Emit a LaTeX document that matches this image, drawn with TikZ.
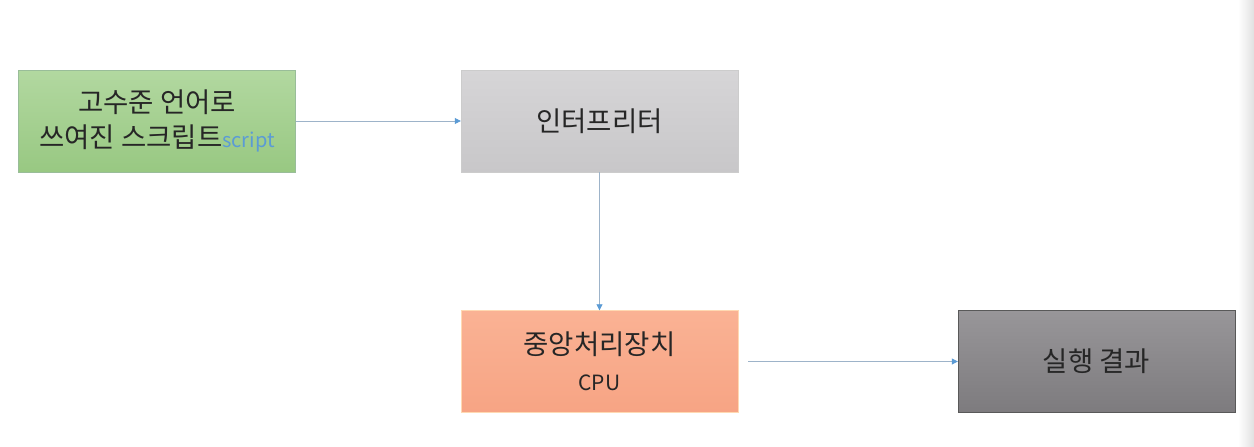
\documentclass[tikz,border=0pt]{standalone}
\usepackage{fontspec}
\setmainfont{Noto Sans CJK KR}
\usetikzlibrary{arrows.meta}
\definecolor{arrowc}{HTML}{5B9BD5}
\definecolor{linec}{HTML}{9DB3C9}
\definecolor{scriptc}{HTML}{5B9BD5}
\tikzset{
  box/.style={rectangle, minimum width=277pt, minimum height=102pt, inner sep=0pt, align=center, font=\fontsize{27.5}{34.5}\selectfont, text=black!85},
  conn/.style={draw=linec, line width=0.8pt, -{Triangle[length=6pt,width=6pt,fill=arrowc,color=arrowc]}},
}
\begin{document}
\begin{tikzpicture}[x=1pt,y=-1pt]
\useasboundingbox (0,0) rectangle (1254,447);
\fill[white] (0,0) rectangle (1254,447);
\shade[left color=white, right color=black!12] (1238,0) rectangle (1254,447);
\node[box, draw=green!35!black!40, top color={rgb,255:red,178;green,216;blue,160}, bottom color={rgb,255:red,152;green,200;blue,130}] (src) at (157,121) {고수준 언어로\\쓰여진 스크립트{\fontsize{20}{20}\selectfont\color{scriptc}script}};
\node[box, draw=black!20, top color={rgb,255:red,214;green,213;blue,215}, bottom color={rgb,255:red,200;green,199;blue,201}] (interp) at (599.5,121) {인터프리터};
\node[box, draw=orange!30, top color={rgb,255:red,250;green,178;blue,148}, bottom color={rgb,255:red,247;green,164;blue,132}] (cpu) at (599.5,361.5) {중앙처리장치\\[1pt]{\fontsize{21}{30}\selectfont CPU}};
\node[box, draw=black!65, top color={rgb,255:red,152;green,150;blue,153}, bottom color={rgb,255:red,125;green,123;blue,126}] (res) at (1096.5,361.5) {실행 결과};
\coordinate (cpuout) at (748,361.5);
\draw[conn] (src.east) -- (interp.west);
\draw[conn] (interp.south) -- (cpu.north);
\draw[conn] (cpuout) -- (res.west);
\end{tikzpicture}
\end{document}
